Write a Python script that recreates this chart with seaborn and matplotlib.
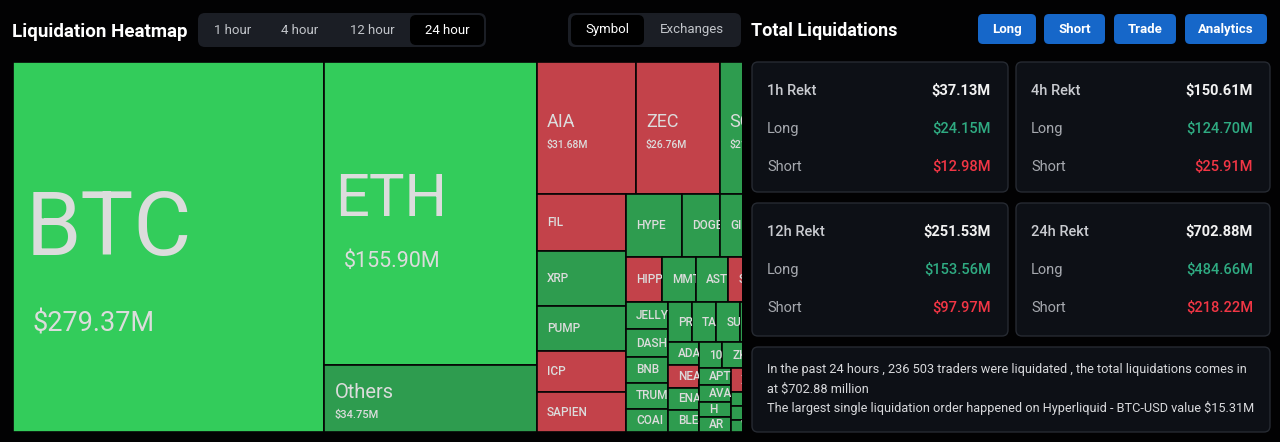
import matplotlib
matplotlib.use("Agg")
import matplotlib.pyplot as plt
from matplotlib.patches import FancyBboxPatch, Rectangle
import seaborn as sns

# ---------------- data ----------------
symbols = ["BTC", "ETH", "Others", "AIA", "ZEC", "SOL",
           "FIL", "XRP", "PUMP", "ICP", "SAPIEN",
           "HYPE", "DOGE", "GIGGLE", "LTC",
           "HIPPO", "MMT", "ASTER", "STRK", "LINK",
           "JELLYJELLY", "DASH", "BNB", "TRUMP", "COAI",
           "PROMPT", "TAO", "SUI", "WLD", "AAVE",
           "ADA", "NEAR", "ENA", "BLESS",
           "1000PEPE", "ZK", "UNI", "ONDO",
           "APT", "AVAX", "H", "AR",
           "XPL", "TIA", "SEI",
           "OP", "PENGU", "WIF",
           "CRV", "BCH", "LDO", "FARTCOIN"]
liq_musd = [279.37, 155.90, 34.75, 31.68, 26.76, 21.60,
            12.32, 11.89, 9.72, 8.86, 8.64,
            8.57, 5.81, 5.30, 4.90,
            3.93, 3.71, 3.50, 3.30, 3.12,
            2.79, 2.78, 2.65, 2.61, 2.39,
            2.33, 2.33, 2.30, 2.29, 2.28,
            1.73, 1.70, 1.68, 1.66,
            1.45, 1.42, 1.38, 1.32,
            1.30, 1.29, 1.21, 1.14,
            1.12, 1.08, 1.05,
            1.00, 0.95, 0.85,
            0.80, 0.70, 0.60, 0.50]
# dominant side: H = strong long, L = long, S = short
dominant = ["H", "H", "L", "S", "S", "L",
            "S", "L", "L", "S", "S",
            "L", "L", "L", "L",
            "S", "L", "L", "S", "L",
            "L", "L", "L", "L", "L",
            "L", "L", "L", "L", "L",
            "L", "S", "L", "L",
            "L", "L", "L", "L",
            "L", "L", "L", "L",
            "S", "L", "L",
            "L", "L", "L",
            "L", "L", "L", "L"]
# number of symbols in each squarified strip
strip_counts = [1, 2, 3, 5, 4, 5, 5, 5, 4, 4, 4, 3, 3, 4]

time_tabs = ["1 hour", "4 hour", "12 hour", "24 hour"]
view_tabs = ["Symbol", "Exchanges"]
buttons = ["Long", "Short", "Trade", "Analytics"]
periods = ["1h Rekt", "4h Rekt", "12h Rekt", "24h Rekt"]
total_liq = [37.13, 150.61, 251.53, 702.88]
long_liq = [24.15, 124.70, 153.56, 484.66]
short_liq = [12.98, 25.91, 97.97, 218.22]
summary_lines = [
    "In the past 24 hours , 236 503 traders were liquidated , the total liquidations comes in",
    "at $702.88 million",
    "The largest single liquidation order happened on Hyperliquid - BTC-USD value $15.31M",
]

# ---------------- style ----------------
sns.set_theme(style="dark", rc={"figure.facecolor": "#020203",
                                "axes.facecolor": "#020203",
                                "savefig.facecolor": "#020203"})
plt.rcParams["font.family"] = ["Roboto", "DejaVu Sans"]

W, H = 1280, 442
fig = plt.figure(figsize=(W / 100, H / 100), dpi=100)

# UI layer in pixel coordinates
ui = fig.add_axes([0, 0, 1, 1])
ui.set_xlim(0, W)
ui.set_ylim(H, 0)
ui.axis("off")


def rbox(x0, y0, x1, y1, fc, ec="none", r=6, lw=1.0, z=1):
    ui.add_patch(FancyBboxPatch((x0, y0), x1 - x0, y1 - y0,
                                boxstyle=f"round,pad=0,rounding_size={r}",
                                fc=fc, ec=ec, lw=lw, zorder=z))


# header left
ui.text(12, 32, "Liquidation Heatmap", color="white", fontsize=13.5,
        fontweight="bold", va="center", ha="left")
rbox(198, 13, 486, 47, "#1b1e25", r=7)
rbox(410, 15, 484, 45, "#000000", r=6, z=2)
for t, cx in zip(time_tabs, [233, 300, 372, 447]):
    ui.text(cx, 30, t, color="white" if t == "24 hour" else "#c2c5ca",
            fontsize=9.5, ha="center", va="center", zorder=3)
rbox(568, 13, 741, 47, "#1b1e25", r=7)
rbox(571, 15, 644, 45, "#000000", r=6, z=2)
for t, cx in zip(view_tabs, [607, 692]):
    ui.text(cx, 30, t, color="white" if t == "Symbol" else "#c2c5ca",
            fontsize=9.5, ha="center", va="center", zorder=3)

# header right
ui.text(751, 31, "Total Liquidations", color="white", fontsize=13,
        fontweight="bold", va="center", ha="left")
for t, (x0, x1) in zip(buttons, [(978, 1036), (1044, 1105), (1114, 1176), (1185, 1267)]):
    rbox(x0, 14, x1, 44, "#1667c9", r=5)
    ui.text((x0 + x1) / 2, 29.5, t, color="white", fontsize=9.5,
            fontweight="bold", ha="center", va="center", zorder=3)

# cards
cards = [(752, 62, 1008, 192), (1016, 62, 1270, 192),
         (752, 203, 1008, 336), (1016, 203, 1270, 336)]
for (x0, y0, x1, y1), p, tv, lv, sv in zip(cards, periods, total_liq, long_liq, short_liq):
    rbox(x0, y0, x1, y1, "#0d1016", ec="#262a32", r=6)
    ui.text(x0 + 15, y0 + 29, p, color="#c9cbd0", fontsize=10.5,
            fontweight="medium", va="center", zorder=3)
    ui.text(x1 - 17, y0 + 29, f"${tv:.2f}M", color="#f2f2f2", fontsize=10.5,
            fontweight="bold", ha="right", va="center", zorder=3)
    ui.text(x0 + 15, y0 + 67, "Long", color="#a6a9af", fontsize=10.5, va="center", zorder=3)
    ui.text(x1 - 17, y0 + 67, f"${lv:.2f}M", color="#2fab82", fontsize=10.5,
            fontweight="medium", ha="right", va="center", zorder=3)
    ui.text(x0 + 15, y0 + 105, "Short", color="#a6a9af", fontsize=10.5, va="center", zorder=3)
    ui.text(x1 - 17, y0 + 105, f"${sv:.2f}M", color="#f23645", fontsize=10.5,
            fontweight="medium", ha="right", va="center", zorder=3)

rbox(752, 347, 1270, 432, "#0d1016", ec="#262a32", r=6)
for i, line in enumerate(summary_lines):
    ui.text(767, 370 + 19 * i, line, color="#d8d9dc", fontsize=9.15,
            va="center", ha="left", zorder=3)

# ---------------- treemap ----------------
TM_W, TM_H = 774.0, 370.0   # full treemap rectangle (right part hidden)
VIS_W = 729.0
ax = fig.add_axes([13 / W, 1 - 432 / H, VIS_W / W, TM_H / H])
ax.set_xlim(0, VIS_W)
ax.set_ylim(TM_H, 0)
ax.axis("off")


def squarify_strips(values, counts, x0, y0, w, h):
    scale = w * h / sum(values)
    rects, i = [], 0
    for c in counts:
        grp = values[i:i + c]
        area = sum(grp) * scale
        if w >= h:
            cw = area / h
            yy = y0
            for v in grp:
                ch = v * scale / cw
                rects.append((x0, yy, cw, ch))
                yy += ch
            x0 += cw
            w -= cw
        else:
            rh = area / w
            xx = x0
            for v in grp:
                cw = v * scale / rh
                rects.append((xx, y0, cw, rh))
                xx += cw
            y0 += rh
            h -= rh
        i += c
    return rects


rects = squarify_strips(liq_musd, strip_counts, 0, 0, TM_W, TM_H)
palette = {"H": "#33cc5b", "L": "#2e9c4f", "S": "#c3424a"}
lefts = [r[0] for r in rects]
tops = [r[1] for r in rects]
widths = [r[2] for r in rects]
heights = [r[3] for r in rects]
ax.bar(lefts, heights, width=widths, bottom=tops, align="edge",
       color=[palette[d] for d in dominant], edgecolor="#050505", linewidth=1.2)


def label_style(v):
    # name size, value size, name pad, value pad, name dy, value dy (pixels)
    if v >= 250:
        return 64, 19.5, 13, 20, 8, 84
    if v >= 100:
        return 43, 15.5, 11, 19, 3, 54
    if v >= 34:
        return 14.5, 8, 10, 10, 0, 20
    if v >= 20:
        return 13, 7.5, 10, 10, -1.5, 20
    return None


txt_color = "#dcdcdc"
for (x, y, w, h), name, v in zip(rects, symbols, liq_musd):
    if x + 10 >= VIS_W:
        continue
    clip = Rectangle((x, y), min(x + w, VIS_W) - x, h, transform=ax.transData)
    st = label_style(v)
    cy = y + h / 2
    if st is None:
        t = ax.text(x + 10, cy, name, color=txt_color, fontsize=8.5,
                    fontweight="medium", va="center", ha="left", clip_on=True)
        t.set_clip_path(clip)
    else:
        nfs, vfs, npad, vpad, ndy, vdy = st
        t1 = ax.text(x + npad, cy + ndy, name, color=txt_color, fontsize=nfs,
                     va="baseline", ha="left", clip_on=True)
        t1.set_clip_path(clip)
        t2 = ax.text(x + vpad, cy + vdy, f"${v:.2f}M", color=txt_color, fontsize=vfs,
                     fontweight="medium" if v < 100 else "normal",
                     va="baseline", ha="left", clip_on=True)
        t2.set_clip_path(clip)

fig.savefig("out.png", dpi=100)
